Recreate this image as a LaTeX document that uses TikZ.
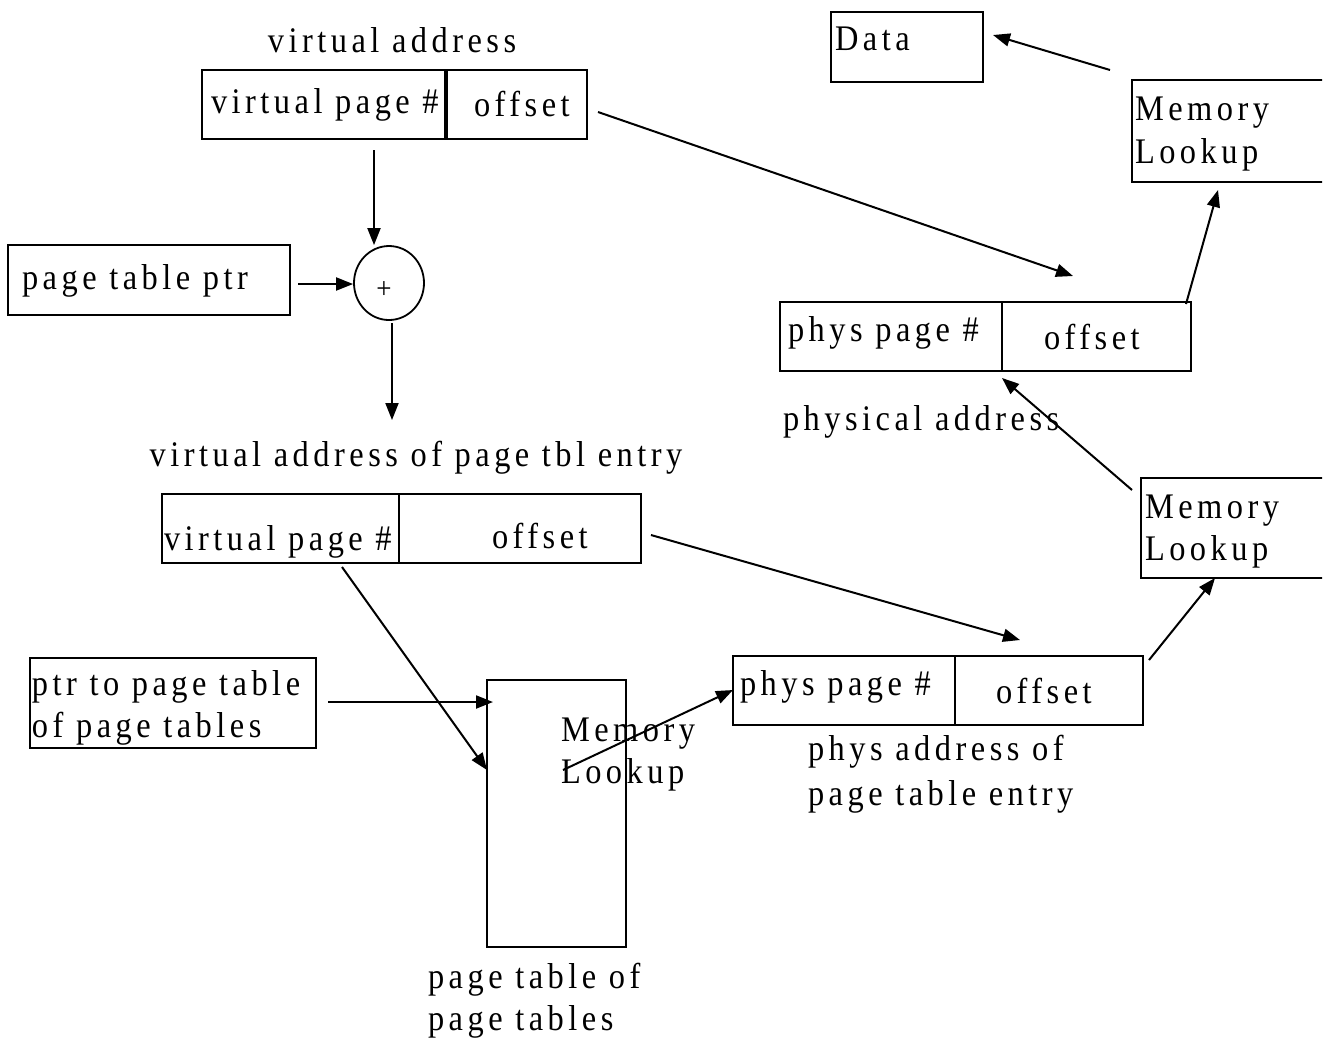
\documentclass[tikz,border=0pt]{standalone}
\usepackage{fontspec}
\setmainfont{Liberation Serif}[LetterSpace=12.5,FakeStretch=0.9]
\usetikzlibrary{arrows.meta,shapes.geometric,calc}
\newcommand\lbfont{\fontsize{18}{22}\selectfont}
\begin{document}
\begin{tikzpicture}[x=0.5pt,y=-0.5pt,
  bx/.style={draw,line width=1.1pt,inner sep=0pt,outer sep=0pt,anchor=north west},
  tbx/.style={bx,line width=0.8pt},
  lbl/.style={inner sep=0pt,outer sep=0pt,anchor=base west,font=\lbfont},
  clbl/.style={lbl,anchor=base},
  arr/.style={line width=1pt,-{Triangle[length=8.5pt,width=6.5pt]}}]
\useasboundingbox (0,0) rectangle (1331,1040);
\clip (0,0) rectangle (1322,1040);

% ---------- boxes ----------
\node[bx,minimum width=121.5pt,minimum height=34.5pt] (vpn) at (202,70) {};
\node[bx,minimum width=70pt,minimum height=34.5pt] (voff) at (447,70) {};
\node[bx,minimum width=141pt,minimum height=35pt] (ptp) at (8,245) {};
\node[draw,line width=0.9pt,ellipse,inner sep=0pt,minimum width=35pt,minimum height=37pt] (sum) at (389,283) {};
\node[bx,minimum width=118.5pt,minimum height=34.5pt] (vpn2) at (162,494) {};
\node[bx,minimum width=121pt,minimum height=34.5pt] (voff2) at (399,494) {};
\node[bx,minimum width=143pt,minimum height=45pt] (ptpt) at (30,658) {};
\node[tbx,minimum width=69.5pt,minimum height=133.5pt] (ptt) at (487,680) {};
\node[bx,minimum width=111pt,minimum height=34.5pt] (ppn2) at (733,656) {};
\node[bx,minimum width=94pt,minimum height=34.5pt] (poff2) at (955,656) {};
\node[tbx,minimum width=110pt,minimum height=50pt] (ml2) at (1141,478) {};
\node[bx,minimum width=111pt,minimum height=34.5pt] (ppn) at (780,302) {};
\node[bx,minimum width=94.5pt,minimum height=34.5pt] (poff) at (1002,302) {};
\node[tbx,minimum width=110pt,minimum height=51pt] (ml1) at (1132,80) {};
\node[tbx,minimum width=76pt,minimum height=35pt] (data) at (831,12) {};

% ---------- texts ----------
\node[clbl] (tva) at (392,52) {virtual address};
\node[lbl] (tvpn) at (211,113) {virtual page \#};
\node[lbl] (tvoff) at (474,116) {offset};
\node[lbl] (tptp) at (22,289) {page table ptr};
\node[inner sep=0pt,font=\fontsize{15}{17}\selectfont] (tplus) at (384,290) {+};
\node[clbl] (tvape) at (416,466) {virtual address of page tbl entry};
\node[lbl] (tvpn2) at (164,550) {virtual page \#};
\node[lbl] (tvoff2) at (492,548) {offset};
\node[lbl] (tptpt1) at (32,695) {ptr to page table};
\node[lbl] (tptpt2) at (32,737) {of page tables};
\node[lbl] (tml0a) at (561,741) {Memory};
\node[lbl] (tml0b) at (561,783) {Lookup};
\node[lbl] (tptt1) at (428,988) {page table of};
\node[lbl] (tptt2) at (428,1030) {page tables};
\node[lbl] (tppn2) at (740,695) {phys page \#};
\node[lbl] (tpoff2) at (996,703) {offset};
\node[lbl] (tpape1) at (808,760) {phys address of};
\node[lbl] (tpape2) at (808,805) {page table entry};
\node[lbl] (tml2a) at (1145,518) {Memory};
\node[lbl] (tml2b) at (1145,560) {Lookup};
\node[lbl] (tppn) at (788,341) {phys page \#};
\node[lbl] (tpoff) at (1044,349) {offset};
\node[lbl] (tpa) at (783,430) {physical address};
\node[lbl] (tml1a) at (1135,120) {Memory};
\node[lbl] (tml1b) at (1135,163) {Lookup};
\node[lbl] (tdata) at (835,50) {Data};

% ---------- free ends ----------
\coordinate (s1) at (374,150);
\coordinate (s2) at (298,284);
\coordinate (s3) at (392,323);
\coordinate (e3) at (392,420);
\coordinate (s4) at (598,112);
\coordinate (e4) at (1073,276);
\coordinate (s5) at (342,567);
\coordinate (s6) at (328,702);
\coordinate (s7) at (563,770);
\coordinate (s8) at (651,535);
\coordinate (e8) at (1020,640);
\coordinate (s9) at (1149,660);
\coordinate (s10) at (1132,490);
\coordinate (s11) at (1186,304);
\coordinate (s12) at (1110,70);

% ---------- connectors ----------
\draw[arr] (s1) -- (s1 |- sum.north);
\draw[arr] (s2) -- (s2 -| sum.west);
\draw[arr] (s3) -- (e3);
\draw[arr] (s4) -- (e4);
\draw[arr] (s5) -- (ptt.west |- 0,770);
\draw[arr] (s6) -- ($(ptt.west |- s6)+(6,0)$);
\draw[arr] (s7) -- (ppn2.west |- 0,690);
\draw[arr] (s8) -- (e8);
\draw[arr] (s9) -- (ml2.south -| 1215,0);
\draw[arr] (s10) -- ($(ppn.south east)+(0,7)$);
\draw[arr] (s11) -- ($(ml1.south -| 1218,0)+(0,8)$);
\draw[arr] (s12) -- ($(data.east)+(10,-12)$);
\end{tikzpicture}
\end{document}
